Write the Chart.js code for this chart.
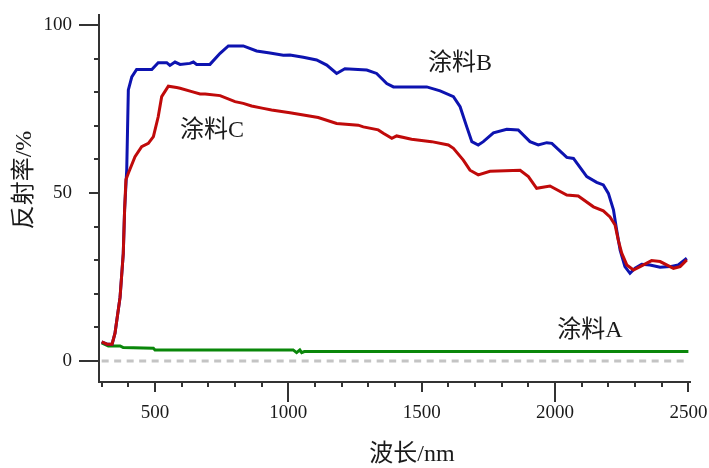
<!DOCTYPE html>
<html>
<head>
<meta charset="utf-8">
<script src="https://cdn.jsdelivr.net/npm/chart.js@4"></script>
<style>
  body { margin: 0; background: #fff; }
  #wrap { width: 709px; height: 468px; }
</style>
</head>
<body>
<div id="wrap"><canvas id="spec"></canvas></div>
<script>
// wavelength (nm) / reflectance (%)
var wlB = [300,320,339,350,369,381,386,394,400,413,431,488,512,544,556,575,594,631,644,656,706,744,775,831,881,931,981,1006,1056,1106,1144,1181,1212,1294,1331,1369,1394,1406,1519,1569,1619,1644,1669,1688,1712,1731,1769,1819,1862,1906,1937,1969,1988,2044,2069,2119,2156,2181,2200,2219,2231,2244,2262,2281,2300,2325,2356,2394,2431,2462,2494];
var refB = [5.7,5.0,5.0,8.3,19,32,45,57,80.7,84.6,86.8,86.8,88.8,88.8,88.0,89.0,88.3,88.6,89.0,88.3,88.3,91.6,93.8,93.8,92.3,91.7,91.0,91.1,90.4,89.6,88.1,85.6,87.0,86.6,85.6,82.6,81.6,81.6,81.6,80.4,78.7,75.7,69.7,65.3,64.3,65.3,67.9,69.0,68.8,65.3,64.3,65.0,64.8,60.6,60.3,54.9,53.2,52.4,49.9,45.0,39,33,28.1,26.1,27.6,28.8,28.6,27.9,28.1,28.6,30.6];

var wlC = [300,320,339,350,369,381,386,391,400,425,450,475,494,512,525,550,581,594,638,669,688,744,800,831,862,906,937,1006,1112,1181,1262,1281,1337,1356,1388,1406,1462,1537,1600,1619,1656,1681,1712,1756,1869,1900,1931,1981,2044,2087,2144,2181,2206,2225,2237,2250,2269,2294,2319,2362,2394,2444,2469,2494];
var refC = [5.7,5.0,5.0,8.3,19,32,45,54,55.9,60.8,63.8,64.8,66.8,72.7,78.7,81.8,81.4,81.2,80.2,79.5,79.5,79.0,77.2,76.7,75.9,75.2,74.7,73.9,72.5,70.7,70.2,69.7,68.8,67.8,66.3,67.0,66.0,65.3,64.3,63.3,59.8,56.8,55.4,56.5,56.8,54.9,51.4,52.1,49.4,49.1,45.9,44.7,42.9,40.5,36,32.1,28.6,27.1,28.1,29.9,29.6,27.6,28.1,30.1];

var wlA = [300,325,369,381,494,500,1018,1031,1043,1050,1060,2500];
var refA = [5.4,4.5,4.5,4.0,3.8,3.3,3.3,2.5,3.3,2.5,2.8,2.8];

var zeroX = [300,2500];
var zeroY = [0,0];

var annoText = ['涂料B','涂料C','涂料A'];
var annoX = [1524,594,2008];
var annoY = [88.5,68.5,8.9];

var xLabels = [500,1000,1500,2000,2500];
var yLabels = [0,50,100];

var serif = "'Liberation Serif', 'Noto Sans CJK SC', serif";

function pts(xs, ys){
  var out = [];
  for(var i=0;i<xs.length;i++){
    out.push({x: xs[i], y: ys[i]});
  }
  return out;
}

// ticks of three lengths, outward
var tickPlugin = {
  id: 'tickMarks',
  afterDraw: function(chart){
    var ctx = chart.ctx;
    var xs = chart.scales.x, ys = chart.scales.y;
    var area = chart.chartArea;
    ctx.save();
    ctx.strokeStyle = '#333';
    ctx.lineWidth = 2;
    ctx.beginPath();
    for(var v=300; v<=2500; v+=100){
      var len = 5;
      if(v % 1000 == 0) len = 20;
      else if(v % 500 == 0) len = 10;
      var px = Math.round(xs.getPixelForValue(v));
      ctx.moveTo(px, area.bottom);
      ctx.lineTo(px, area.bottom + len);
    }
    for(var w=0; w<=100; w+=10){
      var l = 5;
      if(w == 0 || w == 100) l = 20;
      else if(w == 50) l = 10;
      var py = Math.round(ys.getPixelForValue(w));
      ctx.moveTo(area.left, py);
      ctx.lineTo(area.left - l, py);
    }
    ctx.stroke();
    ctx.restore();
  }
};

// curve names and axis titles
var textPlugin = {
  id: 'texts',
  afterDraw: function(chart){
    var ctx = chart.ctx;
    var xs = chart.scales.x, ys = chart.scales.y;
    ctx.save();
    ctx.fillStyle = '#1a1a1a';
    ctx.font = '24px ' + serif;
    ctx.textAlign = 'left';
    ctx.textBaseline = 'middle';
    for(var i=0;i<annoText.length;i++){
      ctx.fillText(annoText[i], xs.getPixelForValue(annoX[i]), ys.getPixelForValue(annoY[i]));
    }
    ctx.textAlign = 'center';
    ctx.fillText('波长/nm', 412, 455);
    ctx.translate(25, 180);
    ctx.rotate(-Math.PI/2);
    ctx.fillText('反射率/%', 0, 0);
    ctx.restore();
  }
};

var ctx = document.getElementById('spec');
new Chart(ctx, {
  type: 'line',
  data: {
    datasets: [
      { label: '涂料C', data: pts(wlC, refC), borderColor: '#c00a0a', borderWidth: 3 },
      { label: '涂料B', data: pts(wlB, refB), borderColor: '#0d13b0', borderWidth: 3 },
      { label: '涂料A', data: pts(wlA, refA), borderColor: '#0a870a', borderWidth: 3 },
      { label: 'zero', data: pts(zeroX, zeroY), borderColor: '#c4c4c4', borderWidth: 3, borderDash: [7, 5.5] }
    ]
  },
  options: {
    responsive: true,
    maintainAspectRatio: false,
    animation: false,
    layout: { padding: { top: 15, right: 19, left: 0, bottom: 0 } },
    elements: { point: { radius: 0 }, line: { tension: 0 } },
    plugins: { legend: { display: false }, tooltip: { enabled: false } },
    scales: {
      x: {
        type: 'linear',
        min: 290,
        max: 2506,
        afterFit: function(s){ s.height = 86; s.paddingLeft = 0; s.paddingRight = 0; },
        grid: { display: false, drawTicks: false },
        border: { display: true, color: '#333', width: 2 },
        ticks: {
          stepSize: 100,
          includeBounds: false,
          autoSkip: false,
          maxRotation: 0,
          padding: 20,
          color: '#1a1a1a',
          font: { family: serif, size: 19 },
          callback: function(v){ return xLabels.indexOf(v) >= 0 ? String(v) : ''; }
        }
      },
      y: {
        min: -6.25,
        max: 103,
        afterFit: function(s){ s.width = 99; s.paddingTop = 0; s.paddingBottom = 0; },
        grid: { display: false, drawTicks: false },
        border: { display: true, color: '#333', width: 2 },
        ticks: {
          stepSize: 10,
          includeBounds: false,
          autoSkip: false,
          padding: 27,
          color: '#1a1a1a',
          font: { family: serif, size: 19 },
          callback: function(v){ return yLabels.indexOf(v) >= 0 ? String(v) : ''; }
        }
      }
    }
  },
  plugins: [tickPlugin, textPlugin]
});
</script>
</body>
</html>
